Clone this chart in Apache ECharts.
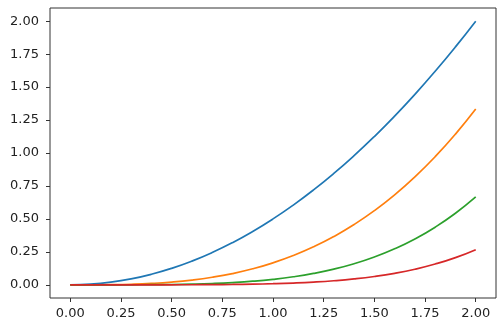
<!DOCTYPE html>
<html>
<head>
<meta charset="utf-8">
<script src="https://cdn.jsdelivr.net/npm/echarts@6/dist/echarts.min.js"></script>
<style>html,body{margin:0;padding:0;background:#fff;}#c{width:504px;height:330px;}</style>
</head>
<body>
<div id="c"></div>
<script>
var xs = [0, 0.1, 0.2, 0.3, 0.4, 0.5, 0.6, 0.7, 0.8, 0.9, 1.0, 1.1, 1.2, 1.3, 1.4, 1.5, 1.6, 1.7, 1.8, 1.9, 2.0];
var blue = [0, 0.005, 0.02, 0.045, 0.08, 0.125, 0.18, 0.245, 0.32, 0.405, 0.5, 0.605, 0.72, 0.845, 0.98, 1.125, 1.28, 1.445, 1.62, 1.805, 2.0];
var orange = [0, 0.0002, 0.0013, 0.0045, 0.0107, 0.0208, 0.036, 0.0572, 0.0853, 0.1215, 0.1667, 0.2218, 0.288, 0.3662, 0.4573, 0.5625, 0.6827, 0.8188, 0.972, 1.1432, 1.3333];
var green = [0, 0, 0.0001, 0.0003, 0.0011, 0.0026, 0.0054, 0.01, 0.0171, 0.0273, 0.0417, 0.061, 0.0864, 0.119, 0.16, 0.2109, 0.2731, 0.348, 0.4374, 0.543, 0.6667];
var red = [0, 0, 0, 0, 0.0001, 0.0003, 0.0006, 0.0014, 0.0027, 0.0049, 0.0083, 0.0134, 0.0207, 0.0309, 0.0448, 0.0633, 0.0874, 0.1183, 0.1575, 0.2063, 0.2667];
var xTicks = [0, 0.25, 0.5, 0.75, 1.0, 1.25, 1.5, 1.75, 2.0];
var yTicks = [0, 0.25, 0.5, 0.75, 1.0, 1.25, 1.5, 1.75, 2.0];
var colors = ['#1f77b4', '#ff7f0e', '#2ca02c', '#d62728'];

function pairs(ys) { return xs.map(function (x, i) { return [x, ys[i]]; }); }
function mk(ys, c) {
  return { type: 'line', data: pairs(ys), smooth: true, showSymbol: false, symbol: 'none',
    lineStyle: { color: c, width: 1.7 }, itemStyle: { color: c }, animation: false };
}
var font = { fontFamily: 'DejaVu Sans', fontSize: 13, color: '#222' };
var chart = echarts.init(document.getElementById('c'));
chart.setOption({
  animation: false,
  grid: { left: 50, top: 8, right: 8, bottom: 32, show: true, borderColor: '#333', borderWidth: 1, backgroundColor: 'transparent' },
  xAxis: {
    type: 'value', min: -0.1, max: 2.1,
    axisLine: { show: false, onZero: false }, splitLine: { show: false },
    axisTick: { show: true, inside: false, customValues: xTicks, length: 4, lineStyle: { color: '#333' } },
    axisLabel: Object.assign({ show: true, customValues: xTicks, margin: 9, formatter: function (v) { return v.toFixed(2); } }, font)
  },
  yAxis: {
    type: 'value', min: -0.1, max: 2.1,
    axisLine: { show: false, onZero: false }, splitLine: { show: false },
    axisTick: { show: true, inside: false, customValues: yTicks, length: 4, lineStyle: { color: '#333' } },
    axisLabel: Object.assign({ show: true, customValues: yTicks, margin: 11, formatter: function (v) { return v.toFixed(2); } }, font)
  },
  series: [mk(blue, colors[0]), mk(orange, colors[1]), mk(green, colors[2]), mk(red, colors[3])]
});
</script>
</body>
</html>
